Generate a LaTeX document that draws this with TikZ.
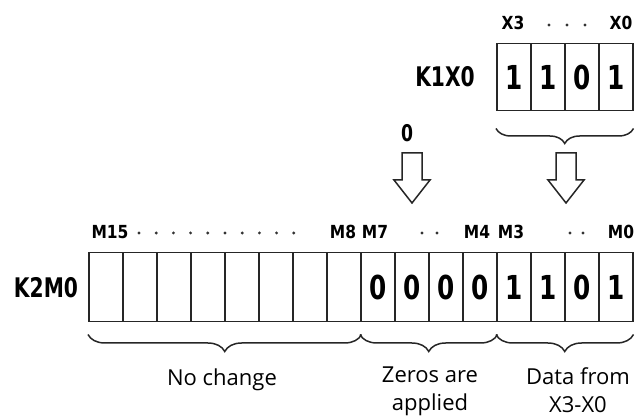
\documentclass[tikz,border=0pt]{standalone}
\usepackage{fontspec}
\setmainfont{Open Sans}
\newfontfamily\gothicn[FakeStretch=0.75]{DejaVu Sans}
\newfontfamily\gothics[FakeStretch=0.86]{DejaVu Sans}
\usetikzlibrary{decorations.pathreplacing}
\begin{document}
\begin{tikzpicture}[x=1pt,y=-1pt,
  cellb/.style={draw=black!85, line width=1.5pt, minimum width=34pt, minimum height=69pt, inner sep=0pt, anchor=north west, font=\gothicn\bfseries\fontsize{33}{33}\selectfont},
  cellt/.style={cellb, minimum height=67pt},
  mlab/.style={font=\gothics\bfseries\fontsize{18}{18}\selectfont, inner sep=0pt},
  dot/.style={circle, fill=black!80, inner sep=0pt, minimum size=3.2pt},
  reglab/.style={font=\gothicn\bfseries\fontsize{27}{27}\selectfont, inner sep=0pt},
  note/.style={font=\fontsize{22}{28}\selectfont, align=center, inner sep=0pt},
  brc/.style={draw=black!85, line width=1.5pt, decorate, decoration={brace, amplitude=15pt, mirror}},
  harrow/.style={draw=black!85, line width=1.5pt, fill=white, line join=miter}
]
\useasboundingbox (0,0) rectangle (635,419);
% bottom register K2M0
\foreach \i/\v in {0/,1/,2/,3/,4/,5/,6/,7/,8/0,9/0,10/0,11/0,12/1,13/1,14/0,15/1}{
  \pgfmathtruncatemacro{\m}{15-\i}
  \node[cellb] (m\m) at ({88+34*\i},252) {\v};
}
% top register K1X0
\foreach \j/\v in {0/1,1/1,2/0,3/1}{
  \pgfmathtruncatemacro{\k}{3-\j}
  \node[cellt] (x\k) at ({496+34*\j},43) {\v};
}
% register labels
\node[reglab] (k2) at (46,288) {K2M0};
\node[reglab] (k1) at (445,77) {K1X0};
% top bit labels
\node[mlab] (lx3) at (513,23) {X3};
\node[mlab] (lx0) at (621,23) {X0};
\foreach \x [count=\n] in {549,567,585}{
  \node[dot] (dx\n) at (\x,25) {};
}
% bottom bit labels
\node[mlab] (l15) at (110,232) {M15};
\node[mlab] (l8) at (343,232) {M8};
\node[mlab] (l7) at (375,232) {M7};
\node[mlab] (l4) at (477,232) {M4};
\node[mlab] (l3) at (511,232) {M3};
\node[mlab] (l0) at (621,232) {M0};
\foreach \n in {0,...,9}{
  \node[dot] (d\n) at ({139+17.2*\n},233) {};
}
\node[dot] (da) at (422,233) {};
\node[dot] (db) at (437,233) {};
\node[dot] (dc) at (570,233) {};
\node[dot] (dd) at (583,233) {};
% zero input
\node[inner sep=0pt, font=\gothicn\bfseries\fontsize{23}{23}\selectfont] (zero) at (407,133) {0};
% hollow arrows
\draw[harrow] (402,153) -- (422,153) -- (422,180) -- (430,180) -- (412,203) -- (394,180) -- (402,180) -- cycle;
\draw[harrow] (556,153) -- (576,153) -- (576,180) -- (584,180) -- (566,203) -- (548,180) -- (556,180) -- cycle;
% braces
\draw[brc] ([yshift=-17pt]x3.south west) -- ([yshift=-17pt]x0.south east);
\draw[brc, decoration={amplitude=17pt}] ([yshift=-12pt]m15.south west) -- ([yshift=-12pt]m8.south east);
\draw[brc, decoration={amplitude=17pt}] ([yshift=-12pt]m7.south west) -- ([yshift=-12pt]m4.south east);
\draw[brc, decoration={amplitude=17pt}] ([yshift=-12pt]m3.south west) -- ([yshift=-12pt]m0.south east);
% notes
\node[note] (n1) at (222,380) {No change};
\node[note, anchor=north] (n2) at (430,367) {Zeros are\\applied};
\node[note, anchor=north] (n3) at (578,367) {Data from\\X3-X0};
\end{tikzpicture}
\end{document}
